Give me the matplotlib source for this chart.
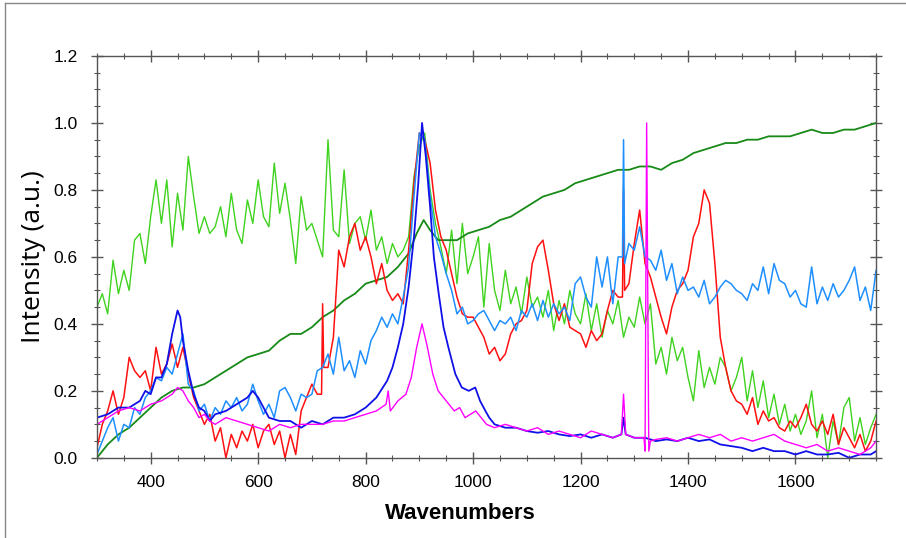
import matplotlib
matplotlib.use("Agg")
import matplotlib.pyplot as plt
from matplotlib.lines import Line2D
from matplotlib.ticker import MultipleLocator, FormatStrFormatter

# Shared wavenumber grid for the three noisiest spectra (cm-1)
wn = list(range(300, 1751, 10))

light_green = [
    0.45, 0.49, 0.43, 0.59, 0.49, 0.56, 0.50, 0.65, 0.67, 0.58,
    0.72, 0.83, 0.70, 0.83, 0.63, 0.79, 0.68, 0.90, 0.78, 0.67,
    0.72, 0.67, 0.69, 0.75, 0.66, 0.79, 0.68, 0.64, 0.77, 0.70,
    0.83, 0.72, 0.69, 0.88, 0.73, 0.82, 0.71, 0.58, 0.78, 0.68,
    0.70, 0.65, 0.60, 0.95, 0.68, 0.66, 0.86, 0.64, 0.70, 0.72,
    0.65, 0.74, 0.62, 0.66, 0.58, 0.64, 0.60, 0.62, 0.66, 0.84,
    0.93, 0.97, 0.80, 0.70, 0.63, 0.55, 0.68, 0.52, 0.70, 0.55,
    0.60, 0.66, 0.45, 0.64, 0.50, 0.44, 0.56, 0.46, 0.51, 0.43,
    0.54, 0.45, 0.48, 0.42, 0.50, 0.38, 0.47, 0.40, 0.50, 0.43,
    0.40, 0.49, 0.38, 0.46, 0.36, 0.44, 0.40, 0.47, 0.36, 0.42,
    0.39, 0.48, 0.40, 0.46, 0.28, 0.33, 0.25, 0.36, 0.29, 0.33,
    0.24, 0.17, 0.32, 0.21, 0.27, 0.22, 0.30, 0.27, 0.20, 0.24,
    0.30, 0.17, 0.26, 0.15, 0.23, 0.12, 0.19, 0.10, 0.16, 0.08,
    0.13, 0.07, 0.11, 0.20, 0.06, 0.13, 0.00, 0.11, 0.04, 0.15,
    0.18, 0.05, 0.12, 0.04, 0.09, 0.13,
]

red = [
    0.03, 0.10, 0.14, 0.20, 0.13, 0.18, 0.30, 0.26, 0.24, 0.26,
    0.20, 0.33, 0.25, 0.28, 0.34, 0.27, 0.33, 0.25, 0.18, 0.14,
    0.10, 0.13, 0.05, 0.09, 0.00, 0.07, 0.03, 0.08, 0.05, 0.10,
    0.03, 0.08, 0.10, 0.04, 0.08, 0.00, 0.07, 0.01, 0.14, 0.18,
    0.22, 0.19, 0.46, 0.27, 0.36, 0.62, 0.57, 0.66, 0.70, 0.62,
    0.66, 0.60, 0.52, 0.58, 0.50, 0.47, 0.49, 0.46, 0.62, 0.82,
    0.97, 0.95, 0.88, 0.74, 0.66, 0.62, 0.55, 0.48, 0.43, 0.42,
    0.42, 0.39, 0.36, 0.31, 0.33, 0.29, 0.31, 0.37, 0.40, 0.41,
    0.44, 0.58, 0.63, 0.65, 0.56, 0.46, 0.41, 0.46, 0.39, 0.38,
    0.37, 0.33, 0.38, 0.35, 0.37, 0.44, 0.50, 0.48, 0.80, 0.52,
    0.64, 0.74, 0.58, 0.54, 0.48, 0.42, 0.37, 0.45, 0.50, 0.52,
    0.56, 0.66, 0.70, 0.80, 0.76, 0.58, 0.36, 0.27, 0.20, 0.17,
    0.16, 0.13, 0.18, 0.10, 0.14, 0.11, 0.12, 0.09, 0.08, 0.11,
    0.09, 0.12, 0.16, 0.10, 0.08, 0.11, 0.07, 0.13, 0.04, 0.09,
    0.06, 0.03, 0.07, 0.02, 0.05, 0.11,
]

light_blue = [
    0.01, 0.05, 0.09, 0.12, 0.05, 0.10, 0.09, 0.15, 0.13, 0.18,
    0.20, 0.24, 0.23, 0.27, 0.25, 0.31, 0.37, 0.22, 0.20, 0.14,
    0.16, 0.11, 0.15, 0.13, 0.17, 0.15, 0.18, 0.14, 0.16, 0.22,
    0.17, 0.13, 0.16, 0.12, 0.20, 0.21, 0.18, 0.14, 0.19, 0.18,
    0.19, 0.26, 0.27, 0.31, 0.25, 0.36, 0.26, 0.29, 0.24, 0.32,
    0.28, 0.35, 0.38, 0.42, 0.39, 0.43, 0.40, 0.48, 0.57, 0.78,
    0.97, 0.95, 0.78, 0.66, 0.61, 0.55, 0.50, 0.43, 0.45, 0.40,
    0.41, 0.43, 0.44, 0.41, 0.38, 0.41, 0.40, 0.42, 0.38, 0.44,
    0.42, 0.46, 0.41, 0.47, 0.42, 0.46, 0.43, 0.45, 0.41, 0.52,
    0.54, 0.48, 0.45, 0.60, 0.51, 0.60, 0.46, 0.60, 0.95, 0.64,
    0.62, 0.69, 0.60, 0.59, 0.56, 0.62, 0.53, 0.58, 0.49, 0.54,
    0.50, 0.51, 0.48, 0.53, 0.46, 0.48, 0.51, 0.53, 0.52, 0.50,
    0.49, 0.47, 0.52, 0.50, 0.57, 0.49, 0.58, 0.53, 0.52, 0.48,
    0.50, 0.46, 0.45, 0.57, 0.46, 0.51, 0.47, 0.52, 0.48, 0.50,
    0.53, 0.57, 0.47, 0.51, 0.44, 0.56,
]

# Smoother spectra, each on its own sampling
dark_green_x = [300, 320, 340, 360, 380, 400, 420, 440, 460, 480,
                500, 520, 540, 560, 580, 600, 620, 640, 660, 680,
                700, 720, 740, 760, 780, 800, 820, 840, 860, 880,
                895, 908, 920, 935, 950, 970, 990, 1010, 1030, 1050,
                1070, 1090, 1110, 1130, 1150, 1170, 1190, 1210, 1230, 1250,
                1270, 1290, 1310, 1330, 1350, 1370, 1390, 1410, 1430, 1450,
                1470, 1490, 1510, 1530, 1550, 1570, 1590, 1610, 1630, 1650,
                1670, 1690, 1710, 1730, 1750]
dark_green = [0.00, 0.04, 0.07, 0.09, 0.12, 0.15, 0.18, 0.20, 0.21, 0.21,
              0.22, 0.24, 0.26, 0.28, 0.30, 0.31, 0.32, 0.35, 0.37, 0.37,
              0.39, 0.42, 0.44, 0.47, 0.49, 0.52, 0.53, 0.54, 0.57, 0.61,
              0.67, 0.71, 0.68, 0.65, 0.65, 0.65, 0.67, 0.68, 0.69, 0.71,
              0.72, 0.74, 0.76, 0.78, 0.79, 0.80, 0.82, 0.83, 0.84, 0.85,
              0.86, 0.86, 0.87, 0.87, 0.86, 0.88, 0.89, 0.91, 0.92, 0.93,
              0.94, 0.94, 0.95, 0.95, 0.96, 0.96, 0.96, 0.97, 0.98, 0.97,
              0.97, 0.98, 0.98, 0.99, 1.00]

blue_x = [300, 320, 340, 360, 380, 390, 400, 410, 420, 430,
          440, 450, 455, 460, 470, 480, 490, 500, 510, 520,
          540, 560, 580, 590, 600, 610, 620, 640, 660, 680,
          700, 720, 740, 760, 780, 800, 820, 840, 850, 860,
          870, 880, 890, 898, 905, 912, 920, 927, 936, 945,
          954, 967, 979, 992, 1004, 1013, 1023, 1030, 1040, 1060,
          1080, 1100, 1120, 1140, 1160, 1180, 1200, 1220, 1240, 1260,
          1276, 1280, 1284, 1300, 1320, 1340, 1360, 1380, 1400, 1420,
          1440, 1460, 1480, 1500, 1520, 1540, 1560, 1580, 1600, 1620,
          1640, 1660, 1680, 1700, 1720, 1740, 1750]
blue = [0.12, 0.13, 0.15, 0.15, 0.17, 0.20, 0.19, 0.24, 0.24, 0.28,
        0.37, 0.44, 0.42, 0.35, 0.26, 0.19, 0.15, 0.14, 0.11, 0.13,
        0.14, 0.16, 0.18, 0.20, 0.18, 0.15, 0.12, 0.11, 0.11, 0.09,
        0.11, 0.10, 0.12, 0.12, 0.13, 0.15, 0.18, 0.23, 0.27, 0.33,
        0.40, 0.51, 0.66, 0.82, 1.00, 0.90, 0.75, 0.60, 0.49, 0.39,
        0.33, 0.25, 0.21, 0.20, 0.21, 0.17, 0.14, 0.12, 0.10, 0.09,
        0.09, 0.08, 0.075, 0.08, 0.07, 0.065, 0.07, 0.06, 0.07, 0.06,
        0.07, 0.12, 0.07, 0.06, 0.06, 0.05, 0.055, 0.05, 0.06, 0.05,
        0.055, 0.04, 0.035, 0.03, 0.02, 0.03, 0.02, 0.02, 0.01, 0.02,
        0.01, 0.01, 0.015, 0.00, 0.01, 0.01, 0.02]

magenta_x = [300, 320, 340, 360, 380, 400, 420, 440, 450, 460,
             470, 480, 490, 500, 510, 520, 540, 560, 580, 600,
             620, 640, 660, 680, 700, 720, 740, 760, 780, 800,
             820, 838, 842, 846, 860, 875, 885, 895, 905, 915,
             925, 935, 945, 955, 965, 975, 985, 995, 1005, 1015,
             1025, 1040, 1060, 1080, 1100, 1120, 1140, 1160, 1180, 1200,
             1220, 1240, 1260, 1276, 1280, 1284, 1300, 1318, 1320, 1323,
             1327, 1330, 1340, 1360, 1380, 1400, 1420, 1440, 1460, 1480,
             1500, 1520, 1540, 1560, 1580, 1600, 1620, 1640, 1660, 1680,
             1700, 1720, 1740, 1750]
magenta = [0.10, 0.12, 0.14, 0.15, 0.14, 0.16, 0.17, 0.19, 0.21, 0.20,
           0.17, 0.15, 0.12, 0.13, 0.11, 0.10, 0.12, 0.11, 0.10, 0.09,
           0.08, 0.10, 0.09, 0.10, 0.10, 0.10, 0.11, 0.11, 0.12, 0.13,
           0.14, 0.16, 0.20, 0.14, 0.17, 0.19, 0.24, 0.33, 0.40, 0.33,
           0.25, 0.20, 0.18, 0.16, 0.14, 0.15, 0.12, 0.13, 0.14, 0.12,
           0.10, 0.09, 0.10, 0.09, 0.08, 0.09, 0.07, 0.08, 0.07, 0.06,
           0.08, 0.07, 0.06, 0.07, 0.19, 0.07, 0.06, 0.06, 0.02, 1.00,
           0.02, 0.05, 0.055, 0.06, 0.05, 0.06, 0.07, 0.06, 0.07, 0.05,
           0.06, 0.05, 0.06, 0.07, 0.05, 0.04, 0.03, 0.04, 0.02, 0.03,
           0.02, 0.01, 0.03, 0.05]

# Narrow spikes that the 10 cm-1 grid cannot hold
light_blue_spike = [(1278, 0.60), (1280, 0.95), (1282, 0.58)]
red_spike = [(1278, 0.48), (1280, 0.80), (1282, 0.50), (718, 0.19), (720, 0.46), (722, 0.27)]


def with_spikes(xs, ys, spikes):
    """Replace grid points near a spike with the spike's own points."""
    spike_x = [s[0] for s in spikes]
    pts = [(x, y) for x, y in zip(xs, ys) if min(abs(x - sx) for sx in spike_x) > 3]
    pts += spikes
    pts.sort()
    return [p[0] for p in pts], [p[1] for p in pts]


TICK_FONT = ['Liberation Sans Narrow', 'Liberation Sans', 'DejaVu Sans']

fig = plt.figure(figsize=(9.06, 5.38), dpi=100)
ax = fig.add_axes([0.107, 0.149, 0.860, 0.747])

lbx, lby = with_spikes(wn, light_blue, light_blue_spike)
rx, ry = with_spikes(wn, red, red_spike)

ax.plot(wn, light_green, color='#3fd21f', lw=1.0)
ax.plot(dark_green_x, dark_green, color='#178a17', lw=1.3)
ax.plot(rx, ry, color='#ff1010', lw=1.1)
ax.plot(lbx, lby, color='#1e8fff', lw=1.1)
ax.plot(blue_x, blue, color='#1010e8', lw=1.3)
ax.plot(magenta_x, magenta, color='#ff00ff', lw=1.0)

ax.set_xlim(300, 1750)
ax.set_ylim(0, 1.2)
ax.xaxis.set_major_locator(MultipleLocator(200))
ax.xaxis.set_minor_locator(MultipleLocator(50))
ax.yaxis.set_major_locator(MultipleLocator(0.2))
ax.yaxis.set_minor_locator(MultipleLocator(0.05))
ax.yaxis.set_major_formatter(FormatStrFormatter('%.1f'))

ax.tick_params(which='both', direction='inout', top=True, right=True, color='#555555')
ax.tick_params(which='major', length=8, width=1)
ax.tick_params(which='minor', length=5, width=0.8)
ax.tick_params(axis='x', which='major', pad=8)
ax.tick_params(axis='y', which='major', pad=10)
for lab in ax.get_xticklabels() + ax.get_yticklabels():
    lab.set_family(TICK_FONT)
    lab.set_fontsize(12.5)
for s in ax.spines.values():
    s.set_color('#555555')
    s.set_linewidth(1.0)

ax.set_xlabel('Wavenumbers', family=TICK_FONT, fontsize=16, fontweight='bold')
ax.xaxis.set_label_coords(0.466, -0.112)
ax.set_ylabel('Intensity (a.u.)', family=['Open Sans', 'DejaVu Sans'], fontsize=19)
ax.yaxis.set_label_coords(-0.066, 0.5)

# grey frame of the original screenshot
fig.add_artist(Line2D([0.005, 0.005], [0, 0.995], transform=fig.transFigure, color='#888888', lw=1))
fig.add_artist(Line2D([0.005, 1], [0.995, 0.995], transform=fig.transFigure, color='#888888', lw=1))

fig.savefig('out.png', dpi=100)
